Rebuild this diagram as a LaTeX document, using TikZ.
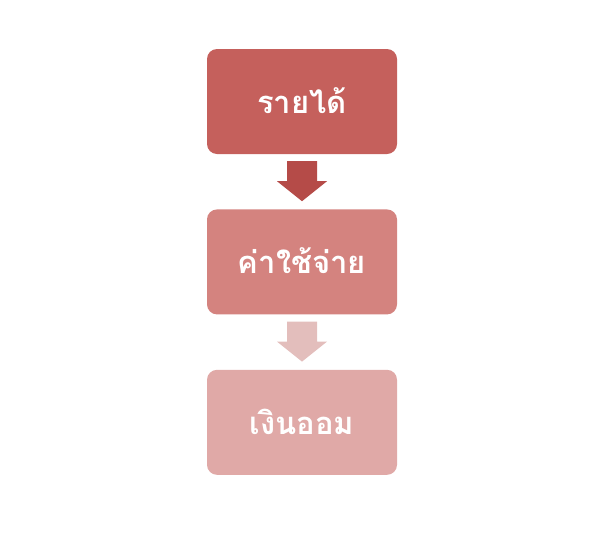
\documentclass[tikz,border=0pt]{standalone}
\usepackage{fontspec}
\newfontfamily\thaifont[Script=Thai]{Loma}
\usetikzlibrary{positioning,calc}

\definecolor{incomecol}{HTML}{C5605C}
\definecolor{expensecol}{HTML}{D4837F}
\definecolor{savingcol}{HTML}{E0A9A7}
\definecolor{arrowonecol}{HTML}{B54B48}
\definecolor{arrowtwocol}{HTML}{E3BEBC}

\begin{document}
\begin{tikzpicture}[x=1pt,y=1pt]
    % `stage' is used for the three rounded boxes.
    % `downarrow' is used for the block arrows between them.
    \tikzstyle{stage} = [rounded corners=10pt,minimum width=190pt,minimum height=105pt,
      text=white,font=\thaifont\bfseries\fontsize{31}{36}\selectfont,inner sep=0pt]
    \tikzstyle{downarrow} = [draw=none]
    %
    \useasboundingbox (0,0) rectangle (604,-544);
    \node[stage,fill=incomecol] (income) at (302,-101.5) {\raisebox{2pt}{รายได้}};
    \node[stage,fill=expensecol,below=55pt of income] (expense) {\raisebox{2pt}{ค่าใช้จ่าย}};
    \node[stage,fill=savingcol,below=55pt of expense] (saving) {\raisebox{2pt}{เงินออม}};
    %
    % Draw arrows.
    \foreach \from/\to/\col in {income/expense/arrowonecol,expense/saving/arrowtwocol}{
      \fill[downarrow,\col] ($(\from.south)+(-15,-7)$) -- ++(0,-20) -- ++(-10,0)
        -- ($(\to.north)+(0,8)$) -- ++(25,20) -- ++(-10,0) -- ++(0,20) -- cycle;
    }
\end{tikzpicture}
\end{document}
